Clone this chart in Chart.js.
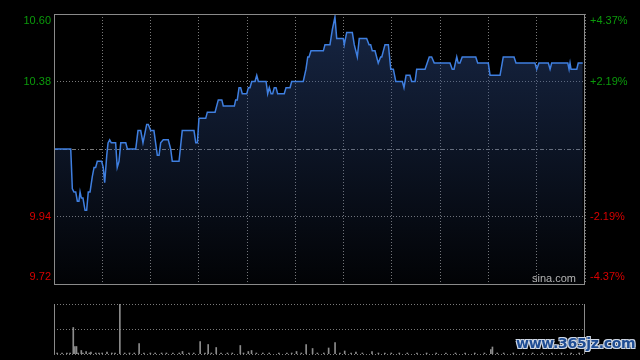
<!DOCTYPE html>
<html>
<head>
<meta charset="utf-8">
<script src="https://cdn.jsdelivr.net/npm/chart.js@4/dist/chart.umd.min.js"></script>
<style>
  html, body { margin: 0; padding: 0; background: #000; }
  #wrap { position: relative; width: 640px; height: 360px; overflow: hidden; background: #000; }
  #main { position: absolute; left: 0; top: 0; }
  #vol { position: absolute; left: 0; top: 290px; }
  .sina { position: absolute; left: 532px; top: 272px; font: 11px "Liberation Sans", Arial, sans-serif; color: #b4b4b4; }
  .mark { position: absolute; left: 516px; top: 335px; font: bold 14px "DejaVu Sans", sans-serif; color: #1f4d94;
          text-shadow: -1px -1px 0 #cfd8e6, 1px -1px 0 #cfd8e6, -1px 1px 0 #cfd8e6, 1px 1px 0 #cfd8e6; letter-spacing: -0.3px; }
</style>
</head>
<body>
<div id="wrap">
  <canvas id="main" width="640" height="290"></canvas>
  <canvas id="vol" width="640" height="70"></canvas>
  <div class="sina">sina.com</div>
  <div class="mark">www.365jz.com</div>
</div>
<script>
// minutes since open (HK session, 330 min), price at each turning point
const minutes = [0,10.4,11.4,12.4,13.5,14.5,15.5,16.2,17.0,18.0,19.3,20.3,21.3,22.4,23.8,24.9,25.9,26.9,29.6,30.6,
  31.5,32.8,33.6,34.6,35.6,38.3,39.3,40.4,41.5,44.6,45.6,50.8,52.2,53.9,55.3,57.6,58.6,60.1,62.1,64.2,
  65.3,66.3,67.9,71.0,72.5,73.5,77.7,79.7,87.0,88.1,89.1,90.1,94.3,95.3,100.1,102.1,104.3,105.2,112.1,112.9,
  113.9,115.0,116.0,117.0,119.8,120.8,121.8,122.9,124.9,126.0,127.0,131.8,132.8,133.8,134.9,135.9,136.9,138.0,139.0,143.1,
  144.2,146.7,147.7,154.9,156.6,157.7,158.5,159.7,167.4,168.4,171.5,173.0,174.6,175.7,179.8,180.4,181.9,185.4,186.6,188.5,
  189.7,194.3,195.8,196.8,197.8,199.5,201.5,203.0,203.7,205.7,207.8,209.3,210.9,212.4,216.5,217.5,218.8,221.2,222.3,224.4,
  225.4,230.6,233.2,234.7,236.3,246.1,247.5,248.6,250.3,251.2,252.3,253.7,262.1,263.3,269.9,271.0,277.2,279.2,285.9,287.1,
  298.9,300.0,301.4,307.2,308.3,309.3,319.3,320.1,320.7,321.3,324.9,325.8,328.6];
const prices = [10.16,10.16,10.03,10.02,10.02,9.99,9.99,10.02,10.00,10.00,9.96,9.96,10.02,10.02,10.07,10.10,10.10,10.12,10.12,10.10,
  10.05,10.14,10.18,10.19,10.18,10.18,10.10,10.12,10.18,10.18,10.16,10.16,10.22,10.22,10.18,10.24,10.24,10.22,10.22,10.14,
  10.14,10.18,10.19,10.19,10.16,10.12,10.12,10.22,10.22,10.18,10.18,10.26,10.26,10.28,10.28,10.32,10.32,10.30,10.30,10.32,
  10.32,10.36,10.36,10.34,10.34,10.36,10.36,10.38,10.38,10.40,10.38,10.38,10.34,10.36,10.34,10.34,10.36,10.36,10.34,10.34,
  10.36,10.36,10.38,10.38,10.42,10.46,10.46,10.48,10.48,10.50,10.50,10.55,10.59,10.52,10.52,10.50,10.54,10.54,10.50,10.46,
  10.52,10.52,10.50,10.50,10.48,10.48,10.44,10.46,10.46,10.50,10.50,10.42,10.42,10.38,10.38,10.36,10.40,10.40,10.38,10.38,
  10.42,10.42,10.46,10.46,10.44,10.44,10.42,10.42,10.46,10.44,10.44,10.46,10.46,10.44,10.44,10.40,10.40,10.46,10.46,10.44,
  10.44,10.42,10.44,10.44,10.42,10.44,10.44,10.42,10.44,10.42,10.42,10.44,10.44];

const prevClose = 10.16;
const priceTicks = [9.72, 9.94, 10.16, 10.38, 10.60];
const priceLabels = ['9.72', '9.94', '', '10.38', '10.60'];
const pctLabels = ['-4.37%', '-2.19%', '', '+2.19%', '+4.37%'];

// volume, relative units (100 = tallest bar)
const volMinutes = [2,5,8,10,12,13,14,15,17,18,20,22,23,26,28,30,33,36,38,41,44,47,50,53,56,60,63,67,70,74,78,80,84,87,91,94,96,98,101,
  104,108,111,116,118,121,123,126,130,134,140,145,148,151,154,157,161,164,168,171,175,178,181,185,188,192,198,202,206,210,215,
  220,226,232,238,244,250,256,262,268,272,273,276,280,286,292,298,304,310,316,322,327];
const volValues = [2,2,2,2,53,15,15,2,7,2,5,2,4,2,2,2,4,2,2,100,2,2,2,21,2,2,2,2,2,2,2,5,2,2,25,2,19,2,13,
  2,2,2,17,2,5,7,2,2,2,2,2,2,5,2,19,11,2,2,12,23,2,6,2,4,2,5,2,2,2,2,
  2,2,2,2,2,2,2,2,2,9,14,2,2,2,2,2,2,2,2,2,2];

const FONT = { family: '"Liberation Sans", Arial, sans-serif', size: 11 };
const GREEN = '#0b9a0b', RED = '#d80000', FRAME = '#8a8a8a', GRID = '#7a7a7a';

function tickColor(ctx) {
  const v = ctx.tick ? ctx.tick.value : 0;
  return v > prevClose ? GREEN : RED;
}
// shift the edge labels inward by half a line
function edgeLabel(text, i) {
  if (i === priceTicks.length - 1) return ['', text];
  if (i === 0) return [text, ''];
  return text;
}

const framePlugin = {
  id: 'frame',
  beforeDatasetsDraw(chart) {
    const { ctx, chartArea: a, scales } = chart;
    const y = Math.round(scales.y.getPixelForValue(prevClose)) + 0.5;
    ctx.save();
    ctx.strokeStyle = GRID;
    ctx.lineWidth = 1;
    ctx.setLineDash([4, 2, 1, 2]);
    ctx.beginPath();
    ctx.moveTo(a.left, y);
    ctx.lineTo(a.right, y);
    ctx.stroke();
    ctx.restore();
  },
  afterDraw(chart) {
    const { ctx, chartArea: a } = chart;
    ctx.save();
    ctx.strokeStyle = FRAME;
    ctx.lineWidth = 1;
    ctx.strokeRect(Math.round(a.left) + 0.5, Math.round(a.top) + 0.5,
      Math.round(a.right - a.left) - 1, Math.round(a.bottom - a.top));
    ctx.restore();
  }
};

new Chart(document.getElementById('main'), {
  type: 'line',
  data: {
    datasets: [{
      data: minutes.map((m, i) => ({ x: m, y: prices[i] })),
      borderColor: '#3f7fe0',
      borderWidth: 1.5,
      pointRadius: 0,
      tension: 0,
      fill: 'start',
      backgroundColor(ctx) {
        const a = ctx.chart.chartArea;
        if (!a) return 'rgba(40,70,130,0.3)';
        const g = ctx.chart.ctx.createLinearGradient(0, a.top, 0, a.bottom);
        g.addColorStop(0, 'rgba(45,75,135,0.5)');
        g.addColorStop(1, 'rgba(45,75,135,0.04)');
        return g;
      }
    }]
  },
  options: {
    responsive: false,
    animation: false,
    layout: { padding: { top: 14, bottom: 6 } },
    plugins: { legend: { display: false }, tooltip: { enabled: false } },
    scales: {
      x: {
        type: 'linear', min: 0, max: 330,
        ticks: { display: false, stepSize: 30 },
        grid: { color: GRID, drawTicks: false },
        border: { display: false, dash: [1, 2] },
        afterFit(s) { s.height = 0; }
      },
      y: {
        position: 'left', min: 9.72, max: 10.60,
        afterBuildTicks(s) { s.ticks = priceTicks.map(v => ({ value: v })); },
        ticks: {
          padding: 3, font: FONT, color: tickColor,
          callback: (v, i) => edgeLabel(priceLabels[i], i)
        },
        grid: {
          drawTicks: false,
          color: ctx => (ctx.index === 1 || ctx.index === 3) ? GRID : 'transparent'
        },
        border: { display: false, dash: [1, 2] },
        afterFit(s) { s.width = 54; s.paddingTop = 0; s.paddingBottom = 0; }
      },
      y2: {
        position: 'right', min: 9.72, max: 10.60,
        afterBuildTicks(s) { s.ticks = priceTicks.map(v => ({ value: v })); },
        ticks: {
          padding: 5, font: FONT, color: tickColor,
          callback: (v, i) => edgeLabel(pctLabels[i], i)
        },
        grid: { display: false, drawTicks: false },
        border: { display: false },
        afterFit(s) { s.width = 55; s.paddingTop = 0; s.paddingBottom = 0; }
      }
    }
  },
  plugins: [framePlugin]
});

const volGridPlugin = {
  id: 'volgrid',
  beforeDatasetsDraw(chart) {
    const { ctx, chartArea: a, scales } = chart;
    ctx.save();
    ctx.lineWidth = 1;
    ctx.strokeStyle = GRID;
    ctx.setLineDash([1, 2]);
    [0, 50, 100].forEach(v => {
      const y = Math.round(scales.y.getPixelForValue(v)) + 0.5;
      ctx.beginPath();
      ctx.moveTo(a.left, y);
      ctx.lineTo(a.right, y);
      ctx.stroke();
    });
    ctx.setLineDash([]);
    ctx.strokeStyle = FRAME;
    [a.left, a.right].forEach(x => {
      const px = Math.round(x) + 0.5;
      ctx.beginPath();
      ctx.moveTo(px, a.top);
      ctx.lineTo(px, a.bottom);
      ctx.stroke();
    });
    ctx.restore();
  }
};

new Chart(document.getElementById('vol'), {
  type: 'bar',
  data: {
    datasets: [{
      data: volMinutes.map((m, i) => ({ x: m, y: volValues[i] })),
      backgroundColor: '#8c8c8c',
      borderWidth: 0,
      barThickness: 1
    }]
  },
  options: {
    responsive: false,
    animation: false,
    layout: { padding: { left: 54, right: 56, top: 14, bottom: 6 } },
    plugins: { legend: { display: false }, tooltip: { enabled: false } },
    scales: {
      x: { type: 'linear', min: 0, max: 330, display: false, offset: false },
      y: { min: 0, max: 100, display: false }
    }
  },
  plugins: [volGridPlugin]
});
</script>
</body>
</html>
